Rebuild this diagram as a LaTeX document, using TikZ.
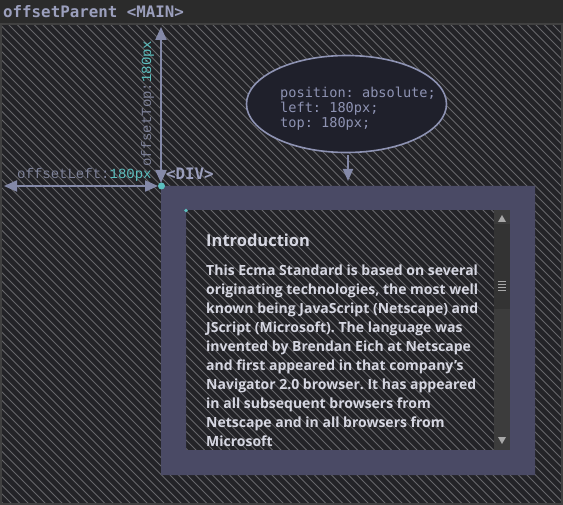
\documentclass[tikz,border=0pt]{standalone}
\usepackage{fontspec}
\setmainfont{Open Sans}
\newfontfamily\dvmono{DejaVu Sans Mono}
\newfontfamily\crmono{Liberation Mono}
\usetikzlibrary{arrows.meta,shapes.geometric}
\definecolor{pagebg}{HTML}{2B2B2B}
\definecolor{framec}{HTML}{414141}
\definecolor{hatchbg}{HTML}{232327}
\definecolor{hatchln}{HTML}{66666A}
\definecolor{titlec}{HTML}{9B9FBD}
\definecolor{arrowc}{HTML}{8489A8}
\definecolor{labelc}{HTML}{7E8299}
\definecolor{tealc}{HTML}{5CC0C0}
\definecolor{divc}{HTML}{4A4A65}
\definecolor{ellfill}{HTML}{1F202B}
\definecolor{ellline}{HTML}{8E93B3}
\definecolor{bodyc}{HTML}{D6D7E2}
\definecolor{scrollc}{HTML}{3C3C3C}
\definecolor{thumbc}{HTML}{333333}
\definecolor{scrollarr}{HTML}{A8A8A8}
\frenchspacing
\begin{document}
\begin{tikzpicture}[x=1pt,y=-1pt,
  dimarrow/.style={draw=arrowc,line width=2pt,{Triangle[length=13pt,width=11pt]}-{Triangle[length=13pt,width=11pt]}},
  hatchline/.style={draw=hatchln,line width=0.9pt},
  monolabel/.style={inner sep=0pt,font=\crmono\fontsize{14}{14}\selectfont,text=labelc},
  tagtext/.style={inner sep=0pt,font=\dvmono\bfseries\fontsize{15.8}{16}\selectfont,text=titlec},
  dotc/.style={fill=tealc}]
\useasboundingbox (0,0) rectangle (563,505);
\fill[pagebg] (0,0) rectangle (563,505);
% hatched main area
\begin{scope}
\clip (1,24) rectangle (562,504);
\fill[hatchbg] (1,24) rectangle (562,504);
\foreach \c in {-560,-551.5,...,570} \draw[hatchline] (\c,0) -- ++(600,600);
\end{scope}
\draw[framec,line width=2pt] (1,24) rectangle (562,504);
% title
\node[tagtext,anchor=base west] (title) at (3,18) {offsetParent <MAIN>};
% DIV frame
\fill[divc,even odd rule] (161,186) rectangle (535,475) (186,210) rectangle (510,450);
% scrollbar
\fill[scrollc] (494,210) rectangle (510,450);
\fill[thumbc] (494,224) rectangle (510,309);
\foreach \yy in {281,284,287,290} \draw[scrollarr,line width=0.8pt] (498,\yy) -- (506,\yy);
\fill[scrollarr] (502,215) -- (506,222) -- (498,222) -- cycle;
\fill[scrollarr] (502,444) -- (506,437) -- (498,437) -- cycle;
% dots
\fill[dotc] (161.5,186) circle (3.5);
\fill[dotc] (186,210.5) circle (1.8);
% arrows
\coordinate (vtop) at (161,27);
\coordinate (vbot) at (161,183);
\coordinate (hleft) at (4,186);
\coordinate (hright) at (158,186);
\draw[dimarrow] (vtop) -- (vbot);
\draw[dimarrow] (hleft) -- (hright);
\node[monolabel,anchor=base west] (offl) at (17,179) {offsetLeft:\textcolor{tealc}{180px}};
\node[monolabel,anchor=base west,rotate=90] (offt) at (151,167) {offsetTop:\textcolor{tealc}{180px}};
\node[tagtext,anchor=base west] (divtag) at (166,180) {<DIV>};
% ellipse
\node[ellipse,draw=ellline,fill=ellfill,line width=1.6pt,minimum width=200pt,minimum height=97pt,inner sep=0pt] (css) at (346.5,104) {};
\node[anchor=north west,inner sep=0pt,align=left,text=ellline,font=\dvmono\fontsize{13.6}{15}\selectfont] (csstext) at (280,87) {position: absolute;\\left: 180px;\\top: 180px;};
\coordinate (divtop) at (348,181);
\draw[draw=arrowc,line width=2pt,-{Triangle[length=12pt,width=10pt]}] (css.south) ++(1.5,2) -- (divtop);
% content
\node[anchor=base west,inner sep=0pt,text=bodyc,font=\bfseries\fontsize{16.5}{18}\selectfont] (intro) at (206,247) {Introduction};
\node[anchor=north west,inner sep=0pt,align=left,text=bodyc,font=\bfseries\fontsize{14}{19}\selectfont] (body) at (206,264.5) {This Ecma Standard is based on several\\originating technologies, the most well\\known being JavaScript (Netscape) and\\JScript (Microsoft). The language was\\invented by Brendan Eich at Netscape\\and first appeared in that company’s\\Navigator 2.0 browser. It has appeared\\in all subsequent browsers from\\Netscape and in all browsers from\\Microsoft};
\end{tikzpicture}
\end{document}
